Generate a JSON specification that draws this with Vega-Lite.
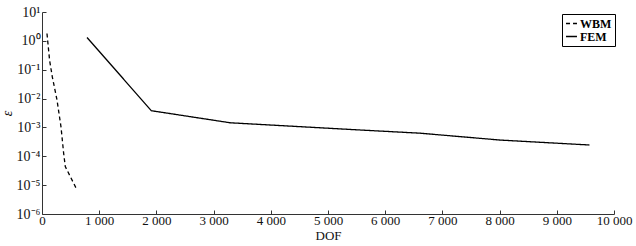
{
  "$schema": "https://vega.github.io/schema/vega-lite/v6.json",
  "autosize": {"type": "none"},
  "width": 572,
  "height": 202,
  "padding": {"left": 42, "top": 12, "right": 22, "bottom": 32},
  "background": "white",
  "config": {
    "view": {"stroke": null},
    "font": "Liberation Serif",
    "axis": {"grid": false, "domainColor": "#333", "tickColor": "#333", "labelColor": "#111", "titleColor": "#111", "labelFont": "Liberation Serif", "titleFont": "Liberation Serif"}
  },
  "data": {
    "values": [
      {"method": "WBM", "DOF": 87, "eps": 1.8},
      {"method": "WBM", "DOF": 133, "eps": 0.21},
      {"method": "WBM", "DOF": 180, "eps": 0.057},
      {"method": "WBM", "DOF": 262, "eps": 0.009},
      {"method": "WBM", "DOF": 332, "eps": 0.00105},
      {"method": "WBM", "DOF": 378, "eps": 0.00013},
      {"method": "WBM", "DOF": 407, "eps": 0.000044},
      {"method": "WBM", "DOF": 612, "eps": 0.0000068},
      {"method": "FEM", "DOF": 787, "eps": 1.31},
      {"method": "FEM", "DOF": 1911, "eps": 0.0038},
      {"method": "FEM", "DOF": 3290, "eps": 0.00145},
      {"method": "FEM", "DOF": 5390, "eps": 0.00085},
      {"method": "FEM", "DOF": 6614, "eps": 0.00063},
      {"method": "FEM", "DOF": 8010, "eps": 0.000365},
      {"method": "FEM", "DOF": 9570, "eps": 0.000246}
    ]
  },
  "mark": {"type": "line", "strokeWidth": 1.3, "clip": true},
  "encoding": {
    "x": {
      "field": "DOF", "type": "quantitative",
      "scale": {"domain": [0, 10000], "nice": false, "zero": false},
      "axis": {"values": [0,1000,2000,3000,4000,5000,6000,7000,8000,9000,10000], "labelExpr": "replace(format(datum.value, ','), ',', ' ')", "title": "DOF", "titleFontWeight": "normal", "titleFontSize": 13, "titlePadding": 2, "labelFontSize": 13, "tickSize": -4, "labelPadding": 4, "labelFlush": false}
    },
    "y": {
      "field": "eps", "type": "quantitative",
      "scale": {"type": "log", "domain": [0.000001, 10], "nice": false},
      "axis": {"values": [0.000001, 0.00001, 0.0001, 0.001, 0.01, 0.1, 1, 10], "labelExpr": "'10' + replace(replace(replace(replace(replace(replace(replace(replace(toString(round(log(datum.value) / LN10)), '-', '⁻'), '0', '⁰'), '1', '¹'), '2', '²'), '3', '³'), '4', '⁴'), '5', '⁵'), '6', '⁶')", "title": "ε", "titleFontStyle": "italic", "titleFontWeight": "normal", "titleFontSize": 14, "titlePadding": 2, "labelFontSize": 14, "tickSize": -4, "labelPadding": 6, "labelFlush": false}
    },
    "strokeDash": {
      "field": "method", "type": "nominal",
      "scale": {"domain": ["WBM", "FEM"], "range": [[4, 3], [1, 0]]},
      "legend": {"title": null, "orient": "none", "legendX": 520, "legendY": 2, "symbolType": "stroke", "symbolSize": 120, "symbolStrokeColor": "black", "symbolStrokeWidth": 1.3, "labelFontSize": 12, "labelFontWeight": "bold", "labelFont": "Liberation Serif", "strokeColor": "black", "padding": 3, "rowPadding": 0, "symbolOffset": 0, "labelOffset": 2}
    },
    "color": {"value": "black"}
  }
}
